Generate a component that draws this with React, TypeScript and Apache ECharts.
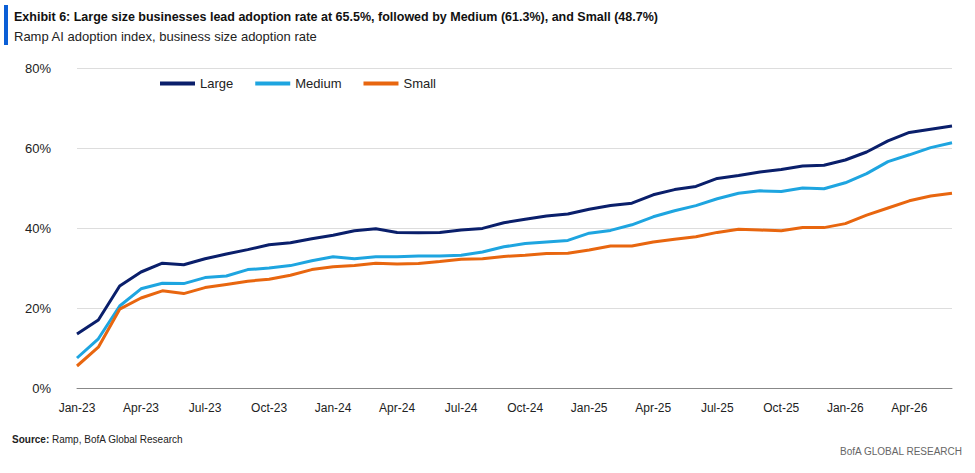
import { useEffect, useRef } from "react";
import * as echarts from "echarts";

const months = [
  "Jan-23","Feb-23","Mar-23","Apr-23","May-23","Jun-23","Jul-23","Aug-23","Sep-23","Oct-23","Nov-23","Dec-23",
  "Jan-24","Feb-24","Mar-24","Apr-24","May-24","Jun-24","Jul-24","Aug-24","Sep-24","Oct-24","Nov-24","Dec-24",
  "Jan-25","Feb-25","Mar-25","Apr-25","May-25","Jun-25","Jul-25","Aug-25","Sep-25","Oct-25","Nov-25","Dec-25",
  "Jan-26","Feb-26","Mar-26","Apr-26","May-26","Jun-26",
];

const large = [
  13.5, 17, 25.5, 29, 31.2, 30.8, 32.3, 33.5, 34.6, 35.8, 36.3, 37.3,
  38.2, 39.3, 39.8, 38.9, 38.8, 38.9, 39.5, 39.9, 41.3, 42.2, 43, 43.5,
  44.7, 45.6, 46.2, 48.3, 49.6, 50.4, 52.4, 53.1, 54, 54.6, 55.5, 55.7,
  57, 59, 61.8, 63.9, 64.7, 65.5,
];
const medium = [
  7.5, 12.3, 20.5, 24.8, 26.2, 26.1, 27.6, 28, 29.6, 30, 30.6, 31.8,
  32.8, 32.3, 32.8, 32.8, 33, 33, 33.2, 34, 35.3, 36.1, 36.5, 36.9,
  38.7, 39.4, 40.8, 42.8, 44.3, 45.6, 47.3, 48.7, 49.3, 49.1, 50, 49.8,
  51.3, 53.6, 56.6, 58.3, 60.1, 61.3,
];
const small = [
  5.5, 10.2, 19.7, 22.5, 24.3, 23.6, 25.1, 25.9, 26.7, 27.2, 28.2, 29.6,
  30.3, 30.6, 31.2, 31, 31.1, 31.6, 32.2, 32.3, 32.9, 33.2, 33.6, 33.7,
  34.5, 35.5, 35.5, 36.5, 37.2, 37.8, 38.9, 39.7, 39.5, 39.3, 40.1, 40.1,
  41.1, 43.2, 45, 46.8, 48, 48.7,
];

const FONT = "'Liberation Sans', Arial, sans-serif";

export default function App() {
  const ref = useRef<HTMLDivElement>(null);

  useEffect(() => {
    if (!ref.current) return;
    const chart = echarts.init(ref.current, undefined, { renderer: "svg" });
    const line = (name: string, data: number[], color: string) => ({
      name,
      type: "line" as const,
      data,
      symbol: "none",
      lineStyle: { width: 3, color },
      itemStyle: { color },
    });
    chart.setOption({
      animation: false,
      textStyle: { fontFamily: FONT },
      graphic: [
        { type: "rect", shape: { x: 4, y: 5, width: 4, height: 40 }, style: { fill: "#0b5fd6" } },
        {
          type: "text", x: 14, y: 10,
          style: {
            text: "Exhibit 6: Large size businesses lead adoption rate at 65.5%, followed by Medium (61.3%), and Small (48.7%)",
            font: `bold 12.5px ${FONT}`, fill: "#111",
          },
        },
        {
          type: "text", x: 14, y: 30,
          style: { text: "Ramp AI adoption index, business size adoption rate", font: `13px ${FONT}`, fill: "#222" },
        },
        {
          type: "text", x: 12, y: 434,
          style: { text: "{b|Source:} Ramp, BofA Global Research", font: `10px ${FONT}`, fill: "#222", rich: { b: { fontWeight: "bold", fontSize: 10 } } },
        },
        {
          type: "text", x: 962, y: 446,
          style: { text: "BofA GLOBAL RESEARCH", font: `10px ${FONT}`, fill: "#666", align: "right" },
        },
      ],
      legend: {
        top: 72,
        left: 155,
        itemWidth: 35,
        itemHeight: 4,
        itemGap: 22,
        icon: "rect",
        textStyle: { fontSize: 13, color: "#222", fontFamily: FONT },
        data: ["Large", "Medium", "Small"],
      },
      grid: { left: 77, right: 23, top: 68, bottom: 85 },
      xAxis: {
        type: "category",
        data: months,
        boundaryGap: false,
        axisLine: { lineStyle: { color: "#888" } },
        axisTick: { show: false },
        axisLabel: { interval: 2, color: "#222", fontSize: 12, margin: 14 },
      },
      yAxis: {
        type: "value",
        min: 0,
        max: 80,
        interval: 20,
        axisLabel: { formatter: "{value}%", color: "#222", fontSize: 13, margin: 26 },
        splitLine: { lineStyle: { color: "#ddd" } },
      },
      series: [
        line("Large", large, "#0a1f6b"),
        line("Medium", medium, "#1ea5e0"),
        line("Small", small, "#e8660f"),
      ],
    });
    return () => chart.dispose();
  }, []);

  return <div ref={ref} style={{ position: "fixed", left: 0, top: 0, width: 975, height: 473, background: "#fff" }} />;
}
